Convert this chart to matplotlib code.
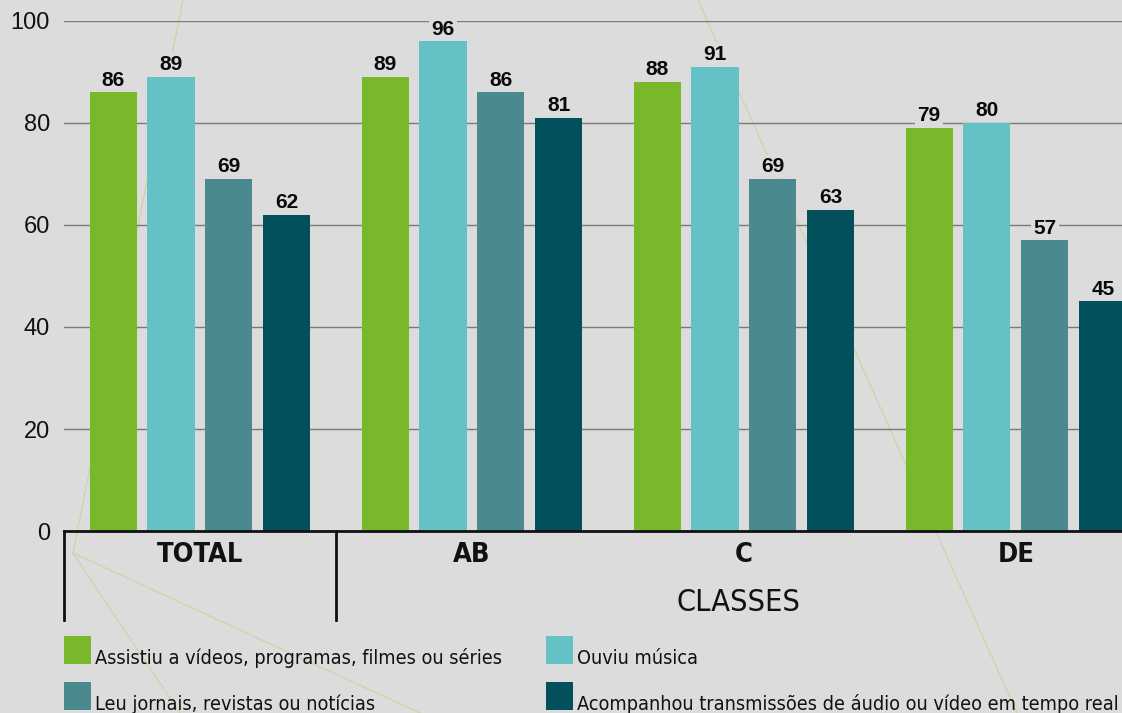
import matplotlib
matplotlib.use('Agg')
import matplotlib.pyplot as plt
from matplotlib.lines import Line2D
from matplotlib.patches import Rectangle
import numpy as np


# data
groups = ['TOTAL', 'AB', 'C', 'DE']
series = [
    'Assistiu a vídeos, programas, filmes ou séries',
    'Ouviu música',
    'Leu jornais, revistas ou notícias',
    'Acompanhou transmissões de áudio ou vídeo em tempo real',
]
assistiu = [86, 89, 88, 79]
ouviu = [89, 96, 91, 80]
leu = [69, 86, 69, 57]
acompanhou = [62, 81, 63, 45]
yticks = [0, 20, 40, 60, 80, 100]
axis_title = 'CLASSES'

values = [assistiu, ouviu, leu, acompanhou]
colors = ['#78b82a', '#64c2c7', '#4a8a8e', '#03505d']
bg = '#dcdcdc'

COND = dict(family='DejaVu Sans', fontstretch='condensed')
plt.rcParams['font.family'] = ['Liberation Sans', 'DejaVu Sans']

W, H = 1122, 713
fig = plt.figure(figsize=(W / 100, H / 100), dpi=100, facecolor=bg)
ax = fig.add_axes([64 / W, (H - 531) / H, 1 - 64 / W, 510 / H])
ax.set_facecolor('none')


def px(x, y):
    """ pixel coords (top-left origin) -> figure fraction """
    return x / W, 1 - y / H


# faint decorative lines in the background
for (x0, y0), (x1, y1) in [((183, 0), (73, 553)), ((73, 553), (420, 713)),
                           ((73, 553), (180, 713)), ((698, 0), (1017, 713))]:
    a, b = px(x0, y0), px(x1, y1)
    fig.add_artist(Line2D([a[0], b[0]], [a[1], b[1]], color='#cdd6a8',
                          lw=1, zorder=-1, transform=fig.transFigure))

x = np.arange(len(groups))
step, width = 0.213, 0.173
for i, (vals, c) in enumerate(zip(values, colors)):
    pos = x + (i - 1.5) * step
    bars = ax.bar(pos, vals, width, color=c, zorder=2)
    for b, v in zip(bars, vals):
        # label box sits under the bars so it only masks the gridlines
        ax.annotate(str(v), (b.get_x() + b.get_width() / 2, v), xytext=(0, 2),
                    textcoords='offset points', ha='center', va='bottom',
                    fontsize=15, fontweight='bold', color='#0a0a0a', zorder=1.5,
                    bbox=dict(boxstyle='square,pad=0.1', fc=bg, ec='none'))

ax.set_ylim(0, 100)
ax.set_xlim(-0.5, 3.39)
ax.set_yticks(yticks)
ax.tick_params(axis='y', length=0, pad=10, labelsize=17, labelcolor='#111111')
ax.set_xticks([])
ax.yaxis.grid(True, color='#7a7a7a', lw=1)
ax.set_axisbelow(True)
for s in ['top', 'right', 'left']:
    ax.spines[s].set_visible(False)
ax.spines['bottom'].set_linewidth(2)
ax.spines['bottom'].set_color('#111111')

# group separators below the axis
tr = ax.get_xaxis_transform()
for xs in [-0.5, 0.5]:
    ax.plot([xs, xs], [0, -0.175], color='#111111', lw=2, transform=tr, clip_on=False)

for xi, g in zip(x, groups):
    ax.text(xi, -0.047, g, transform=tr, ha='center', va='center', fontsize=19.5,
            fontweight='bold', color='#111111', **COND)
ax.text(1.98, -0.14, axis_title, transform=tr, ha='center', va='center',
        fontsize=22, color='#111111', **COND)

# legend
legend_pos = [(64, 636), (546, 636), (64, 682), (546, 682)]
for (lx, ly), name, c in zip(legend_pos, series, colors):
    fx, fy = px(lx, ly + 28)
    fig.add_artist(Rectangle((fx, fy), 27 / W, 28 / H, transform=fig.transFigure,
                             fc=c, ec='none'))
    tx, ty = px(lx + 31, ly + 28)
    fig.text(tx, ty, name, ha='left', va='baseline', fontsize=14.2,
             color='#111111', **COND)

fig.savefig('out.png', dpi=100, facecolor=bg)
